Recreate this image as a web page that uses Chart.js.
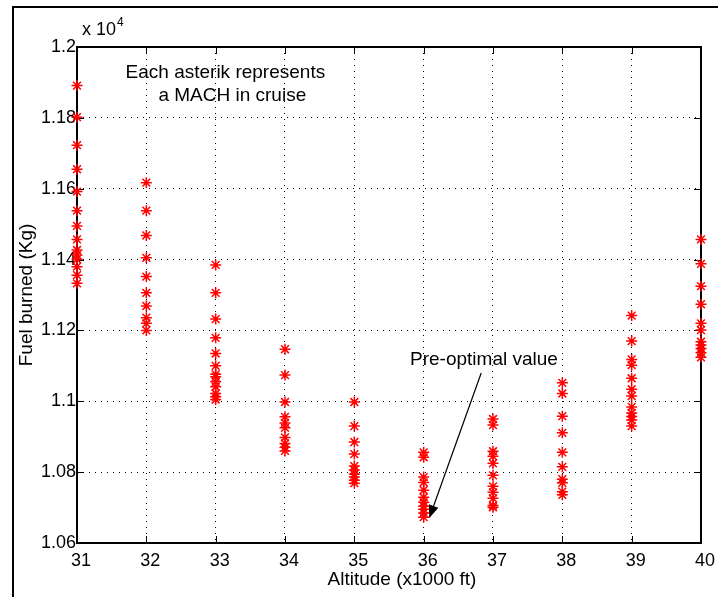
<!DOCTYPE html>
<html>
<head>
<meta charset="utf-8">
<script src="https://cdn.jsdelivr.net/npm/chart.js@4"></script>
<style>
  body { margin: 0; background: #fff; }
  canvas { display: block; }
</style>
</head>
<body>
<canvas id="fuelChart" width="718" height="597"></canvas>
<script>
const altitudes = [31, 32, 33, 34, 35, 36, 37, 38, 39, 40];

// fuel burned (kg) at each altitude, one value per cruise MACH
const fuel31 = [11891, 11802, 11723, 11655, 11592, 11538, 11495, 11457, 11427, 11413, 11401, 11380, 11356, 11333];
const fuel32 = [11617, 11538, 11468, 11405, 11352, 11306, 11269, 11236, 11220, 11200];
const fuel33 = [11385, 11306, 11232, 11179, 11135, 11100, 11076, 11069, 11055, 11041, 11022, 11013, 11005];
const fuel34 = [11147, 11074, 10998, 10956, 10939, 10925, 10898, 10881, 10870, 10860];
const fuel35 = [10998, 10930, 10885, 10851, 10817, 10806, 10794, 10786, 10777, 10769];
const fuel36 = [10856, 10842, 10786, 10771, 10749, 10729, 10715, 10704, 10695, 10685, 10673];
const fuel37 = [10950, 10933, 10859, 10845, 10825, 10791, 10760, 10743, 10726, 10706, 10701];
const fuel38 = [11052, 11022, 10958, 10911, 10856, 10815, 10780, 10770, 10745, 10736];
const fuel39 = [11242, 11170, 11118, 11102, 11065, 11034, 11015, 10984, 10967, 10957, 10947, 10930];
const fuel40 = [11457, 11388, 11325, 11274, 11220, 11201, 11168, 11159, 11149, 11137, 11124];

const yTicks = [10600, 10800, 11000, 11200, 11400, 11600, 11800, 12000];
const yTickLabels = ["1.06", "1.08", "1.1", "1.12", "1.14", "1.16", "1.18", "1.2"];

const xTitle = "Altitude (x1000 ft)";
const yTitle = "Fuel burned (Kg)";
const noteLines = ["Each asterik represents", "a MACH in cruise"];
const arrowLabel = "Pre-optimal value";

const FONT = "'Liberation Sans', Arial, Helvetica, sans-serif";

const fuelByAlt = [fuel31, fuel32, fuel33, fuel34, fuel35, fuel36, fuel37, fuel38, fuel39, fuel40];
const points = [];
altitudes.forEach((a, i) => {
    fuelByAlt[i].forEach(v => points.push({ x: a, y: v }));
});

// matlab style frame, inward ticks, box and text notes
const matlabDecor = {
    id: "matlabDecor",
    beforeDraw(chart) {
        const ctx = chart.ctx;
        ctx.save();
        ctx.fillStyle = "#fff";
        ctx.fillRect(0, 0, chart.width, chart.height);
        ctx.strokeStyle = "#000";
        ctx.lineWidth = 2;
        ctx.strokeRect(13, 7, 760, 700);
        ctx.restore();
    },
    beforeDatasetsDraw(chart) {
        const ctx = chart.ctx;
        const a = chart.chartArea;
        const xs = chart.scales.x, ys = chart.scales.y;
        ctx.save();
        ctx.strokeStyle = "#000";
        ctx.lineWidth = 1;
        const tl = 7;
        altitudes.forEach(v => {
            const px = Math.round(xs.getPixelForValue(v)) + 0.5;
            ctx.beginPath();
            ctx.moveTo(px, a.bottom); ctx.lineTo(px, a.bottom - tl);
            ctx.moveTo(px, a.top); ctx.lineTo(px, a.top + tl);
            ctx.stroke();
        });
        yTicks.forEach(v => {
            const py = Math.round(ys.getPixelForValue(v)) + 0.5;
            ctx.beginPath();
            ctx.moveTo(a.left, py); ctx.lineTo(a.left + tl, py);
            ctx.moveTo(a.right, py); ctx.lineTo(a.right - tl, py);
            ctx.stroke();
        });
        ctx.lineWidth = 2;
        ctx.strokeRect(a.left, a.top, a.right - a.left, a.bottom - a.top);
        ctx.restore();
    },
    afterDraw(chart) {
        const ctx = chart.ctx;
        const a = chart.chartArea;
        const xs = chart.scales.x, ys = chart.scales.y;
        ctx.save();
        ctx.fillStyle = "#000";
        ctx.strokeStyle = "#000";

        // exponent above the y axis
        ctx.font = "18px " + FONT;
        ctx.textAlign = "left";
        ctx.textBaseline = "alphabetic";
        ctx.fillText("x 10", a.left + 5, a.top - 12);
        ctx.font = "12px " + FONT;
        ctx.fillText("4", a.left + 40, a.top - 21);

        // axis titles
        ctx.font = "19px " + FONT;
        ctx.textAlign = "center";
        ctx.textBaseline = "middle";
        ctx.fillText(xTitle, (a.left + a.right) / 2 + 13, 580);
        ctx.save();
        ctx.translate(27, (a.top + a.bottom) / 2);
        ctx.rotate(-Math.PI / 2);
        ctx.fillText(yTitle, 0, 0);
        ctx.restore();

        // note in the upper left
        ctx.fillText(noteLines[0], xs.getPixelForValue(33.14), ys.getPixelForValue(11927));
        ctx.fillText(noteLines[1], xs.getPixelForValue(33.24), ys.getPixelForValue(11862));

        // arrow to the pre-optimal point
        ctx.fillText(arrowLabel, xs.getPixelForValue(36.87), ys.getPixelForValue(11116));
        const x0 = xs.getPixelForValue(36.83), y0 = ys.getPixelForValue(11080);
        const x1 = xs.getPixelForValue(36.08), y1 = ys.getPixelForValue(10670);
        const ang = Math.atan2(y1 - y0, x1 - x0);
        const hl = 13, hw = 5;
        const bx = x1 - hl * Math.cos(ang), by = y1 - hl * Math.sin(ang);
        ctx.lineWidth = 1.2;
        ctx.beginPath();
        ctx.moveTo(x0, y0);
        ctx.lineTo(bx, by);
        ctx.stroke();
        ctx.beginPath();
        ctx.moveTo(x1, y1);
        ctx.lineTo(bx + hw * Math.sin(ang), by - hw * Math.cos(ang));
        ctx.lineTo(bx - hw * Math.sin(ang), by + hw * Math.cos(ang));
        ctx.closePath();
        ctx.fill();
        ctx.restore();
    }
};

const ctx = document.getElementById("fuelChart").getContext("2d");
new Chart(ctx, {
    type: "scatter",
    data: {
        datasets: [{
            data: points,
            pointStyle: "star",
            pointRadius: 5.5,
            borderColor: "#ff0000",
            backgroundColor: "#ff0000",
            borderWidth: 1.5,
            clip: false
        }]
    },
    options: {
        responsive: false,
        animation: false,
        devicePixelRatio: 1,
        events: [],
        layout: { padding: { top: 47, right: 11, left: 0, bottom: 0 } },
        plugins: { legend: { display: false }, tooltip: { enabled: false } },
        scales: {
            x: {
                type: "linear",
                min: 31,
                max: 40,
                afterFit: s => { s.height = 54; },
                afterBuildTicks: s => { s.ticks = altitudes.map(v => ({ value: v })); },
                ticks: {
                    autoSkip: false,
                    maxRotation: 0,
                    padding: 7,
                    labelOffset: 4,
                    color: "#000",
                    font: { family: FONT, size: 18 },
                    callback: v => String(v)
                },
                grid: { color: "#000", lineWidth: 1, drawTicks: false },
                border: { display: false, dash: [1, 5] }
            },
            y: {
                min: 10600,
                max: 12000,
                afterFit: s => { s.width = 77; },
                afterBuildTicks: s => { s.ticks = yTicks.map(v => ({ value: v })); },
                ticks: {
                    padding: 1,
                    color: "#000",
                    font: { family: FONT, size: 18 },
                    callback: v => yTickLabels[yTicks.indexOf(v)]
                },
                grid: { color: "#000", lineWidth: 1, drawTicks: false },
                border: { display: false, dash: [1, 5] }
            }
        }
    },
    plugins: [matlabDecor]
});
</script>
</body>
</html>
